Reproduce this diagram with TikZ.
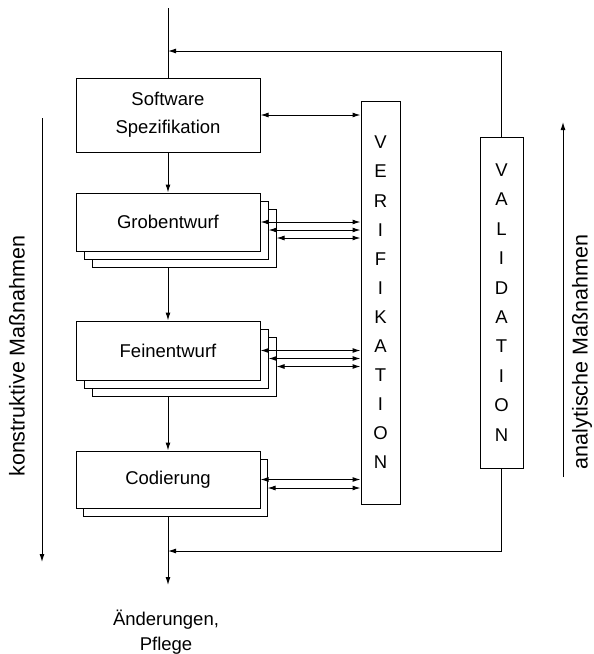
\documentclass[tikz,border=0pt]{standalone}
\usepackage{fontspec}
\setmainfont{Liberation Sans}
\usetikzlibrary{arrows.meta}
\begin{document}
\begin{tikzpicture}[x=1pt,y=-1pt,
  line width=1pt,
  tip/.style={-{Latex[length=8pt,width=5pt]}},
  both/.style={{Latex[length=8pt,width=5pt]}-{Latex[length=8pt,width=5pt]}},
  phase/.style={draw,fill=white,minimum width=184pt,inner sep=0pt,font=\fontsize{18.5}{28}\selectfont,align=center},
  copybox/.style={draw,fill=white,minimum width=184pt,inner sep=0pt},
  column/.style={draw,inner sep=0pt,align=center},
  side/.style={font=\fontsize{21.5}{26}\selectfont,rotate=90}
]
\useasboundingbox (0,0) rectangle (594,654);

% phases
\node[phase,minimum height=74pt] (soft) at (168,115) {Software\\Spezifikation};

\node[copybox,minimum height=58pt] (grob2) at (184,238) {};
\node[copybox,minimum height=58pt] (grob1) at (176,230) {};
\node[phase,minimum height=58pt] (grob) at (168,222) {Grobentwurf};

\node[copybox,minimum height=59pt] (fein2) at (184,366.5) {};
\node[copybox,minimum height=59pt] (fein1) at (176,358.5) {};
\node[phase,minimum height=59pt] (fein) at (168,350.5) {Feinentwurf};

\node[copybox,minimum height=57pt] (cod1) at (175,488) {};
\node[phase,minimum height=57pt] (cod) at (168,479.5) {Codierung};

% columns
\node[column,minimum width=39pt,minimum height=403pt,font=\fontsize{18.5}{29.1}\selectfont] (verif) at (380.5,302.5) {V\\E\\R\\I\\F\\I\\K\\A\\T\\I\\O\\N};
\node[column,minimum width=43pt,minimum height=331pt,font=\fontsize{18.5}{29.4}\selectfont] (valid) at (501.5,302.5) {V\\A\\L\\I\\D\\A\\T\\I\\O\\N};

% main flow
\coordinate (in) at (168,8);
\draw (in) -- (soft.north);
\draw[tip] (soft.south) -- (grob.north);
\draw[tip] (grob.center |- grob2.south) -- (fein.north);
\draw[tip] (fein.center |- fein2.south) -- (cod.north);
\coordinate (out) at (168,585);
\draw[tip] (cod.center |- cod1.south) -- (out);
\node[font=\fontsize{18.5}{25}\selectfont,align=center] (result) at (166,632) {Änderungen,\\Pflege};

% feedback
\coordinate (fbtop) at (168,51);
\coordinate (fbbot) at (168,551);
\draw[tip] (valid.north) |- (fbtop);
\draw[tip] (valid.south) |- (fbbot);

% verification links
\draw[both] (soft.east) -- (soft.east -| verif.west);
\draw[both] (grob.east) -- (grob.east -| verif.west);
\draw[both] (grob1.east) -- (grob1.east -| verif.west);
\draw[both] (grob2.east) -- (grob2.east -| verif.west);
\draw[both] (fein.east) -- (fein.east -| verif.west);
\draw[both] (fein1.east) -- (fein1.east -| verif.west);
\draw[both] (fein2.east) -- (fein2.east -| verif.west);
\draw[both] (cod.east) -- (cod.east -| verif.west);
\draw[both] (cod1.east) -- (cod1.east -| verif.west);

% side arrows
\coordinate (ka) at (42,118);
\coordinate (kb) at (42,562);
\draw[tip] (ka) -- (kb);
\node[side] (ktext) at (17,356) {konstruktive Maßnahmen};
\coordinate (aa) at (563,477);
\coordinate (ab) at (563,122);
\draw[tip] (aa) -- (ab);
\node[side] (atext) at (582,352) {analytische Maßnahmen};
\end{tikzpicture}
\end{document}
